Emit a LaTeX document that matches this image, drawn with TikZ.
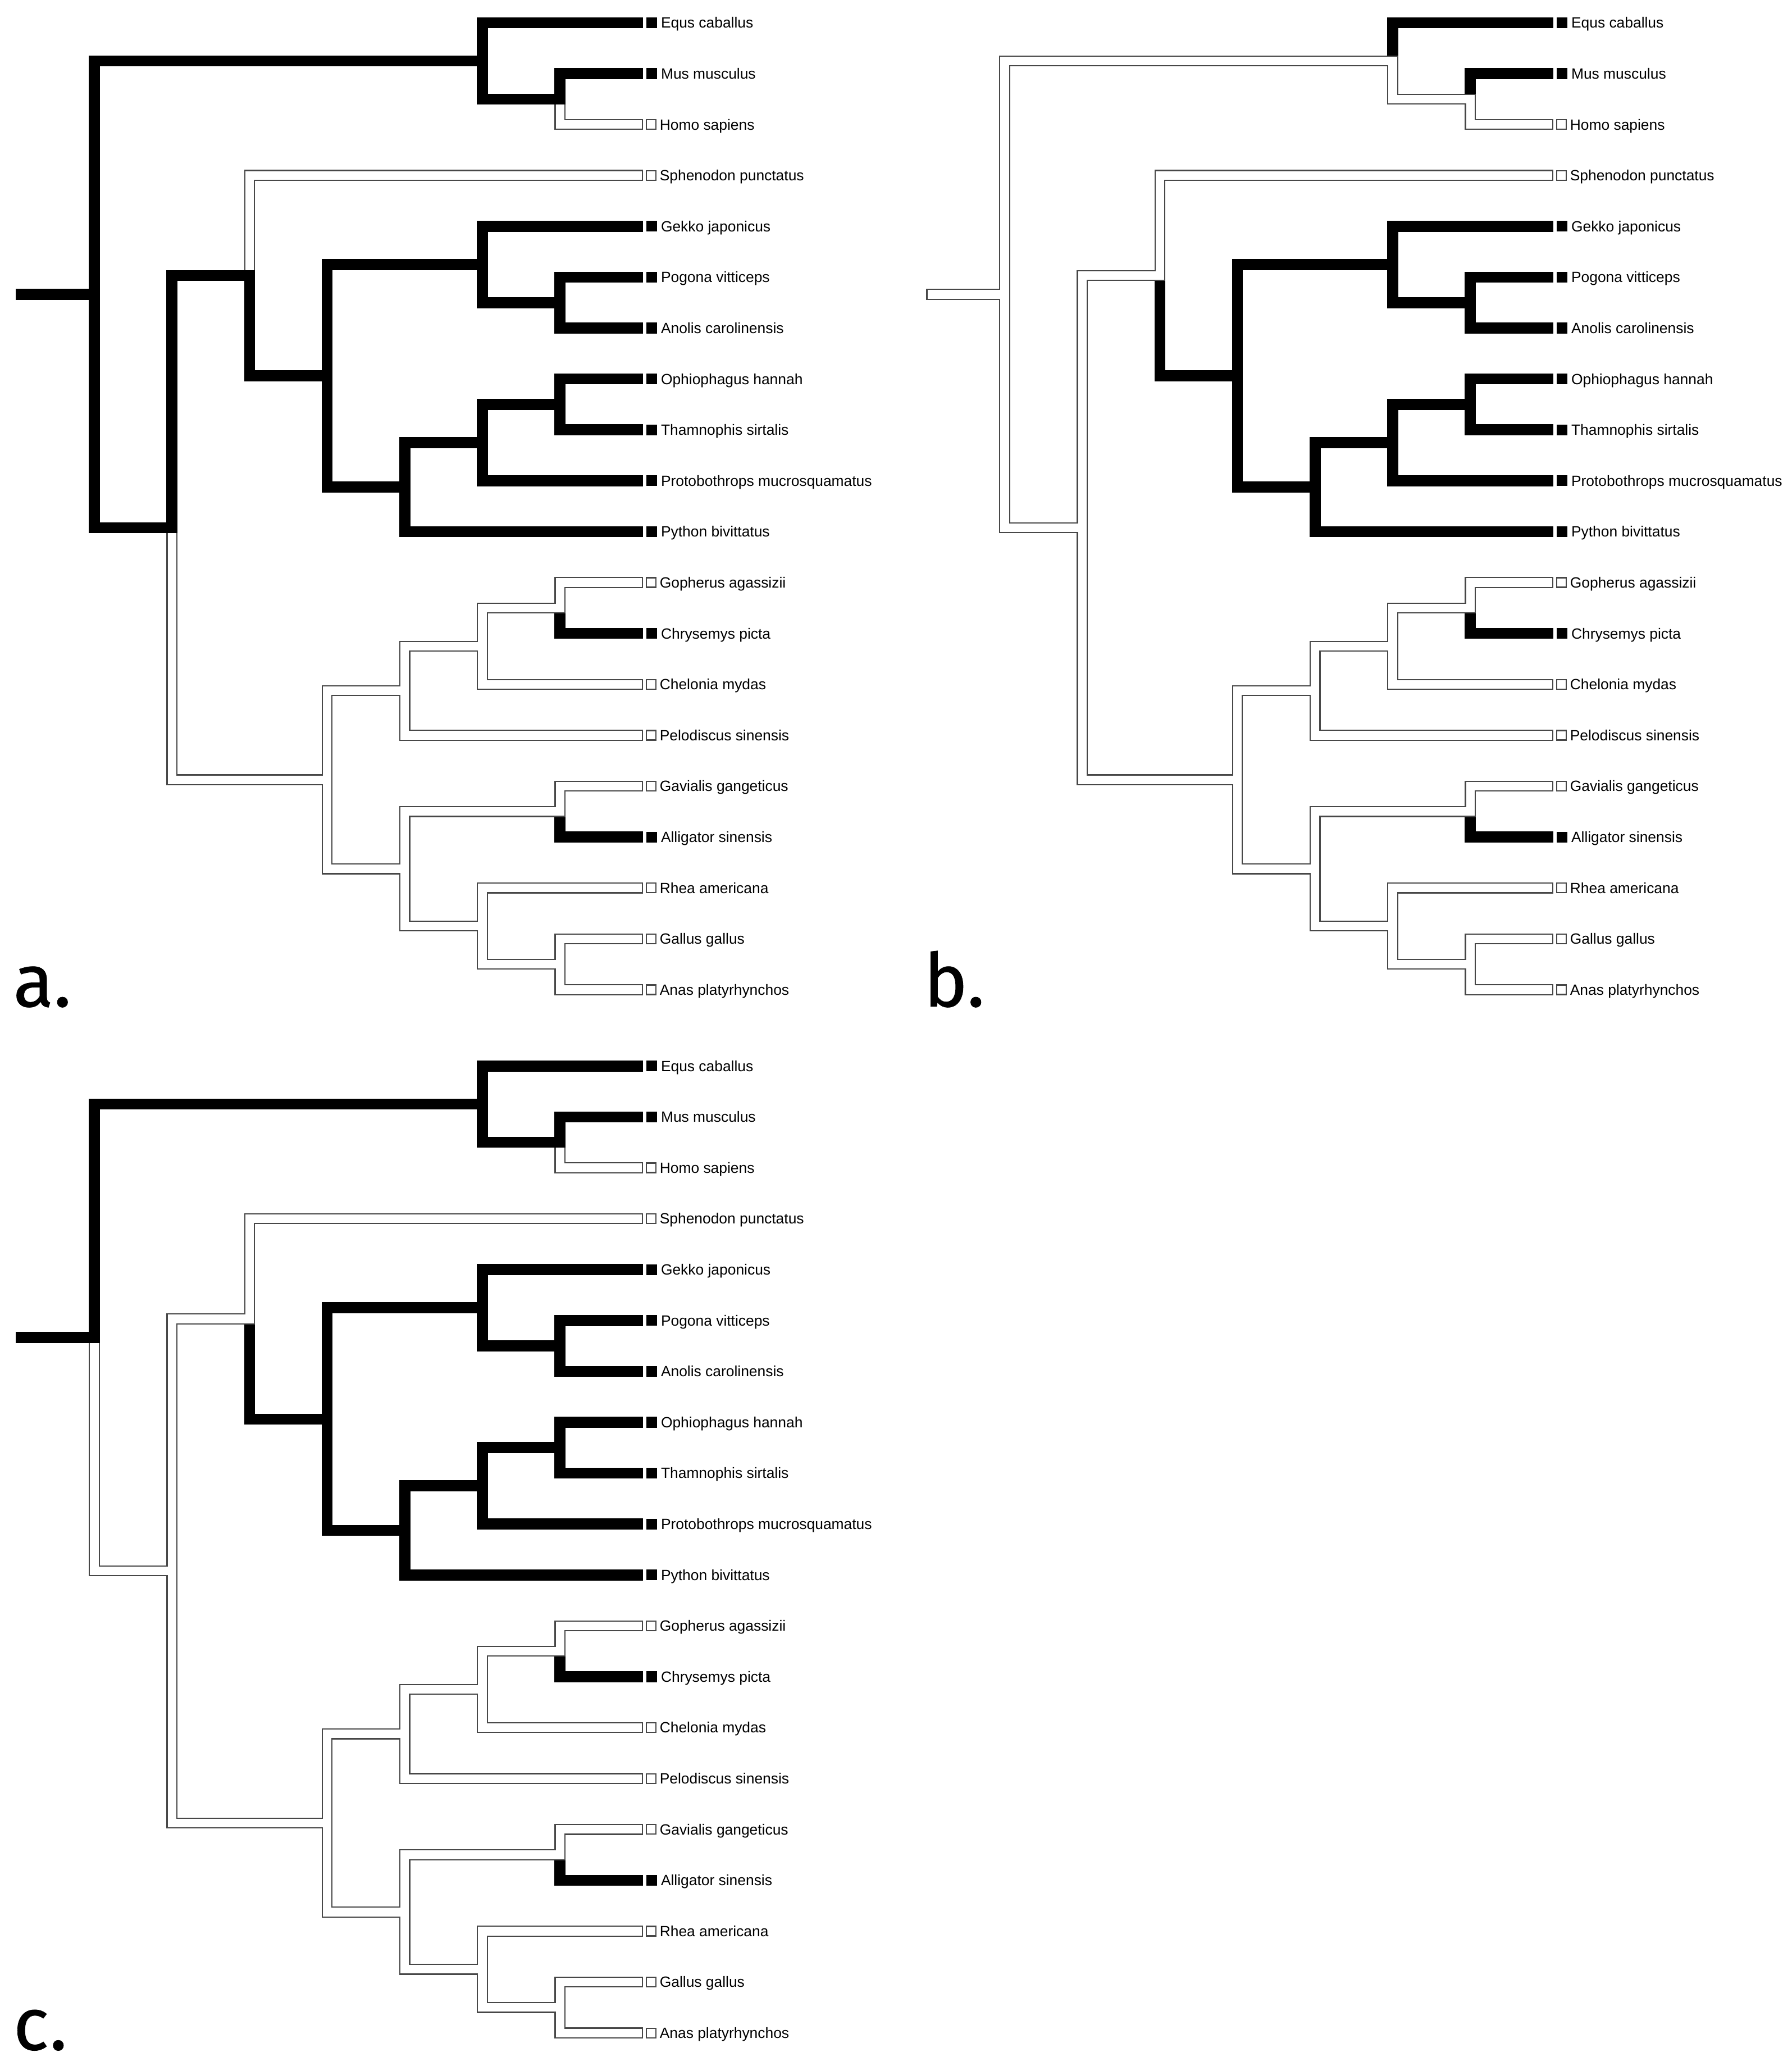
\documentclass[tikz,border=0pt]{standalone}
\usepackage{fontspec}
\setmainfont{Liberation Sans}
\newfontfamily\tagfont[FakeBold=0.6]{Fira Sans}
\usetikzlibrary{positioning}

\begin{document}
\begin{tikzpicture}[x=34.55pt, y=-22.65pt, line cap=rect,
    presentbox/.style={fill=black, minimum size=4.8pt, inner sep=0pt, outer sep=0pt},
    absentbox/.style={draw=black!72, line width=0.55pt, fill=white, minimum size=4.25pt, inner sep=0pt, outer sep=0pt},
    taxon/.style={inner sep=0pt, font=\fontsize{6.6}{7}\selectfont, text height=4.7pt, text depth=0pt},
    tag/.style={anchor=base west, inner sep=0pt, font=\tagfont\fontsize{33}{36}\selectfont},
    present/.style={draw=black, line width=4.9pt},
    absent/.style={draw=black!72, line width=0.55pt, double=white, double distance=3.8pt}]
    \useasboundingbox (-7.45pt,10.125pt) rectangle ++(797.5pt,-919.5pt);

    % Nodes of the three panels
    \foreach \p/\dx/\dy in {a/0pt/0pt, b/405.25pt/0pt, c/0pt/-464.3pt} {
      \begin{scope}[xshift=\dx, yshift=\dy]
        \coordinate (\p-base) at (0.06,5.336);
        \foreach \n/\x/\y in {root/1/5.336, mam/6/0.75, mh/7/1.5, saur/2/9.922, lep/3/4.969,
            sqm/4/6.938, gk/6/4.75, pa/7/5.5, snk/5/9.125, otp/6/8.25, ot/7/7.5,
            ta/4/14.875, tur/5/13.125, gcc/6/12.25, gc/7/11.5, arc/5/16.625,
            cro/7/15.5, brd/6/17.75, ga/7/18.5}
          \coordinate (\p-\n) at (\x,\y);
        \foreach \t/\i/\s/\txt in {equ/0/presentbox/Equs caballus,
            mus/1/presentbox/Mus musculus,
            hom/2/absentbox/Homo sapiens,
            sph/3/absentbox/Sphenodon punctatus,
            gek/4/presentbox/Gekko japonicus,
            pog/5/presentbox/Pogona vitticeps,
            ano/6/presentbox/Anolis carolinensis,
            oph/7/presentbox/Ophiophagus hannah,
            tha/8/presentbox/Thamnophis sirtalis,
            pro/9/presentbox/Protobothrops mucrosquamatus,
            pyt/10/presentbox/Python bivittatus,
            gop/11/absentbox/Gopherus agassizii,
            chr/12/presentbox/Chrysemys picta,
            che/13/absentbox/Chelonia mydas,
            pel/14/absentbox/Pelodiscus sinensis,
            gav/15/absentbox/Gavialis gangeticus,
            ali/16/presentbox/Alligator sinensis,
            rhe/17/absentbox/Rhea americana,
            gal/18/absentbox/Gallus gallus,
            ana/19/absentbox/Anas platyrhynchos} {
          \coordinate (\p-\t) at (8,\i);
          \node[\s, right=3.8pt of \p-\t] (\p-\t-box) {};
          \node[taxon, right=1.6pt of \p-\t-box] (\p-\t-name) {\txt};
        }
        \node[tag] (\p-tag) at (-0.05,19.33) {\p.};
      \end{scope}
    }

    % Panel a
    \draw[absent] (a-mh) |- (a-hom) (a-lep) |- (a-sph) (a-saur) |- (a-ta)
        (a-ta) |- (a-tur) (a-ta) |- (a-arc) (a-tur) |- (a-gcc) (a-tur) |- (a-pel)
        (a-gcc) |- (a-gc) (a-gcc) |- (a-che) (a-gc) |- (a-gop)
        (a-arc) |- (a-cro) (a-arc) |- (a-brd) (a-cro) |- (a-gav)
        (a-brd) |- (a-rhe) (a-brd) |- (a-ga) (a-ga) |- (a-gal) (a-ga) |- (a-ana);
    \draw[present] (a-base) -- (a-root) (a-root) |- (a-mam) (a-root) |- (a-saur)
        (a-mam) |- (a-equ) (a-mam) |- (a-mh) (a-mh) |- (a-mus)
        (a-saur) |- (a-lep) (a-lep) |- (a-sqm)
        (a-sqm) |- (a-gk) (a-sqm) |- (a-snk) (a-gk) |- (a-gek) (a-gk) |- (a-pa)
        (a-pa) |- (a-pog) (a-pa) |- (a-ano) (a-snk) |- (a-otp) (a-snk) |- (a-pyt)
        (a-otp) |- (a-ot) (a-otp) |- (a-pro) (a-ot) |- (a-oph) (a-ot) |- (a-tha);
    \draw[present] ([yshift=-4.9pt]a-gc) |- (a-chr) ([yshift=-4.9pt]a-cro) |- (a-ali);

    % Panel b
    \draw[absent] (b-base) -- (b-root) (b-root) |- (b-mam) (b-root) |- (b-saur)
        (b-mam) |- (b-mh) (b-mh) |- (b-hom)
        (b-saur) |- (b-lep) (b-lep) |- (b-sph) (b-saur) |- (b-ta)
        (b-ta) |- (b-tur) (b-ta) |- (b-arc) (b-tur) |- (b-gcc) (b-tur) |- (b-pel)
        (b-gcc) |- (b-gc) (b-gcc) |- (b-che) (b-gc) |- (b-gop)
        (b-arc) |- (b-cro) (b-arc) |- (b-brd) (b-cro) |- (b-gav)
        (b-brd) |- (b-rhe) (b-brd) |- (b-ga) (b-ga) |- (b-gal) (b-ga) |- (b-ana);
    \draw[present] (b-sqm) |- (b-gk) (b-sqm) |- (b-snk) (b-gk) |- (b-gek) (b-gk) |- (b-pa)
        (b-pa) |- (b-pog) (b-pa) |- (b-ano) (b-snk) |- (b-otp) (b-snk) |- (b-pyt)
        (b-otp) |- (b-ot) (b-otp) |- (b-pro) (b-ot) |- (b-oph) (b-ot) |- (b-tha);
    \draw[present] ([yshift=4.9pt]b-mam) |- (b-equ) ([yshift=4.9pt]b-mh) |- (b-mus)
        ([yshift=-4.9pt]b-lep) |- (b-sqm)
        ([yshift=-4.9pt]b-gc) |- (b-chr) ([yshift=-4.9pt]b-cro) |- (b-ali);

    % Panel c
    \draw[absent] (c-mh) |- (c-hom) (c-root) |- (c-saur)
        (c-saur) |- (c-lep) (c-lep) |- (c-sph) (c-saur) |- (c-ta)
        (c-ta) |- (c-tur) (c-ta) |- (c-arc) (c-tur) |- (c-gcc) (c-tur) |- (c-pel)
        (c-gcc) |- (c-gc) (c-gcc) |- (c-che) (c-gc) |- (c-gop)
        (c-arc) |- (c-cro) (c-arc) |- (c-brd) (c-cro) |- (c-gav)
        (c-brd) |- (c-rhe) (c-brd) |- (c-ga) (c-ga) |- (c-gal) (c-ga) |- (c-ana);
    \draw[present] (c-base) -- (c-root) (c-root) |- (c-mam)
        (c-mam) |- (c-equ) (c-mam) |- (c-mh) (c-mh) |- (c-mus)
        (c-sqm) |- (c-gk) (c-sqm) |- (c-snk) (c-gk) |- (c-gek) (c-gk) |- (c-pa)
        (c-pa) |- (c-pog) (c-pa) |- (c-ano) (c-snk) |- (c-otp) (c-snk) |- (c-pyt)
        (c-otp) |- (c-ot) (c-otp) |- (c-pro) (c-ot) |- (c-oph) (c-ot) |- (c-tha);
    \draw[present] ([yshift=-4.9pt]c-lep) |- (c-sqm)
        ([yshift=-4.9pt]c-gc) |- (c-chr) ([yshift=-4.9pt]c-cro) |- (c-ali);
\end{tikzpicture}
\end{document}
